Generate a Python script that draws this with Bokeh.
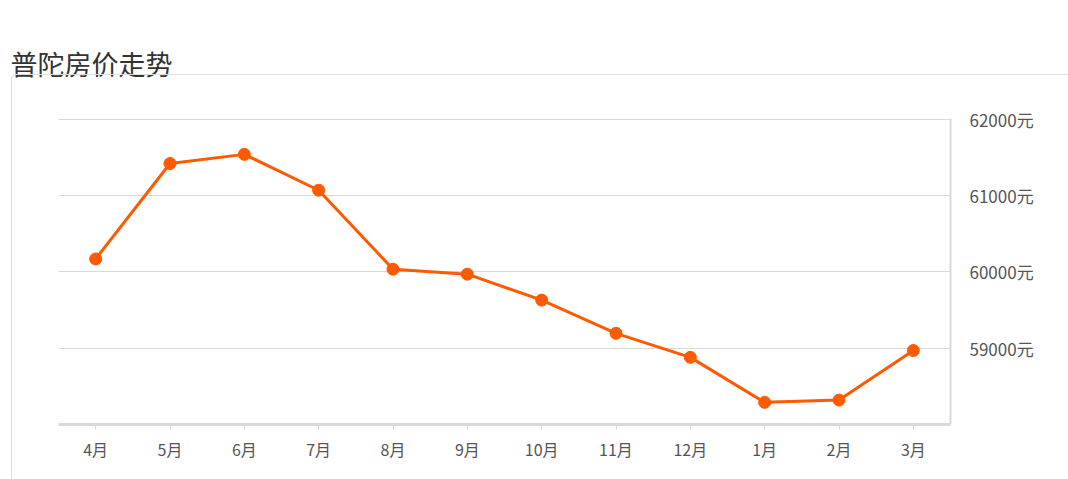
from bokeh.plotting import figure
from bokeh.models import (Range1d, FactorRange, FixedTicker, PrintfTickFormatter,
                          InlineStyleSheet)
from bokeh.embed import file_html
from bokeh.resources import INLINE

months = ["4月", "5月", "6月", "7月", "8月", "9月", "10月", "11月", "12月", "1月", "2月", "3月"]
prices = [60170, 61420, 61540, 61070, 60035, 59970, 59630, 59195, 58880, 58290, 58320, 58970]
y_ticks = [59000, 60000, 61000, 62000]
title_text = "普陀房价走势"

FONT = "Noto Sans CJK SC"
ORANGE = "#ff5a00"

W, H = 1068, 479
card_css = InlineStyleSheet(css="""
:host { overflow: hidden; }
:host::after {
  content: "";
  position: absolute;
  left: 11px; top: 74px; right: -12px; bottom: -12px;
  border: 1px solid #dcdcdc;
  border-radius: 5px;
  pointer-events: none;
  z-index: 10;
}
""")

p = figure(width=W, height=H, x_range=FactorRange(factors=months, range_padding=0),
           y_range=Range1d(58000, 62010), output_backend="svg", toolbar_location=None,
           y_axis_location="right", title=title_text,
           min_border_left=58, min_border_top=118, min_border_right=118, min_border_bottom=55)
p.frame_width = 892
p.frame_height = 306
p.outline_line_color = None
p.background_fill_color = "white"
p.border_fill_color = "white"
p.stylesheets = [card_css]

p.title.text_font = FONT
p.title.text_font_size = "27px"
p.title.text_font_style = "normal"
p.title.text_color = "#333333"
p.title.align = "left"
p.title.vertical_align = "top"
p.title.offset = -48
p.title.standoff = 68

# grid
p.xgrid.grid_line_color = None
p.ygrid.ticker = FixedTicker(ticks=y_ticks)
p.ygrid.grid_line_color = "#d9d9d9"
p.ygrid.grid_line_width = 1

# right axis
ya = p.yaxis[0]
ya.ticker = FixedTicker(ticks=y_ticks)
ya.formatter = PrintfTickFormatter(format="%d元")
ya.axis_line_color = "#d9d9d9"
ya.axis_line_width = 2
ya.major_tick_line_color = None
ya.minor_tick_line_color = None
ya.major_label_standoff = 13
ya.major_label_text_font = FONT
ya.major_label_text_font_size = "17px"
ya.major_label_text_color = "#555555"

# bottom axis
xa = p.xaxis[0]
xa.axis_line_color = "#d9d9d9"
xa.axis_line_width = 3
xa.major_tick_line_color = "#d9d9d9"
xa.major_tick_line_width = 1
xa.major_tick_in = 0
xa.major_tick_out = 5
xa.major_label_standoff = 7
xa.major_label_text_font = FONT
xa.major_label_text_font_size = "16px"
xa.major_label_text_color = "#555555"

p.line(months, prices, line_color=ORANGE, line_width=3)
p.scatter(months, prices, size=12, fill_color=ORANGE, line_color=ORANGE)

open("out.html", "w").write(file_html(p, INLINE))
